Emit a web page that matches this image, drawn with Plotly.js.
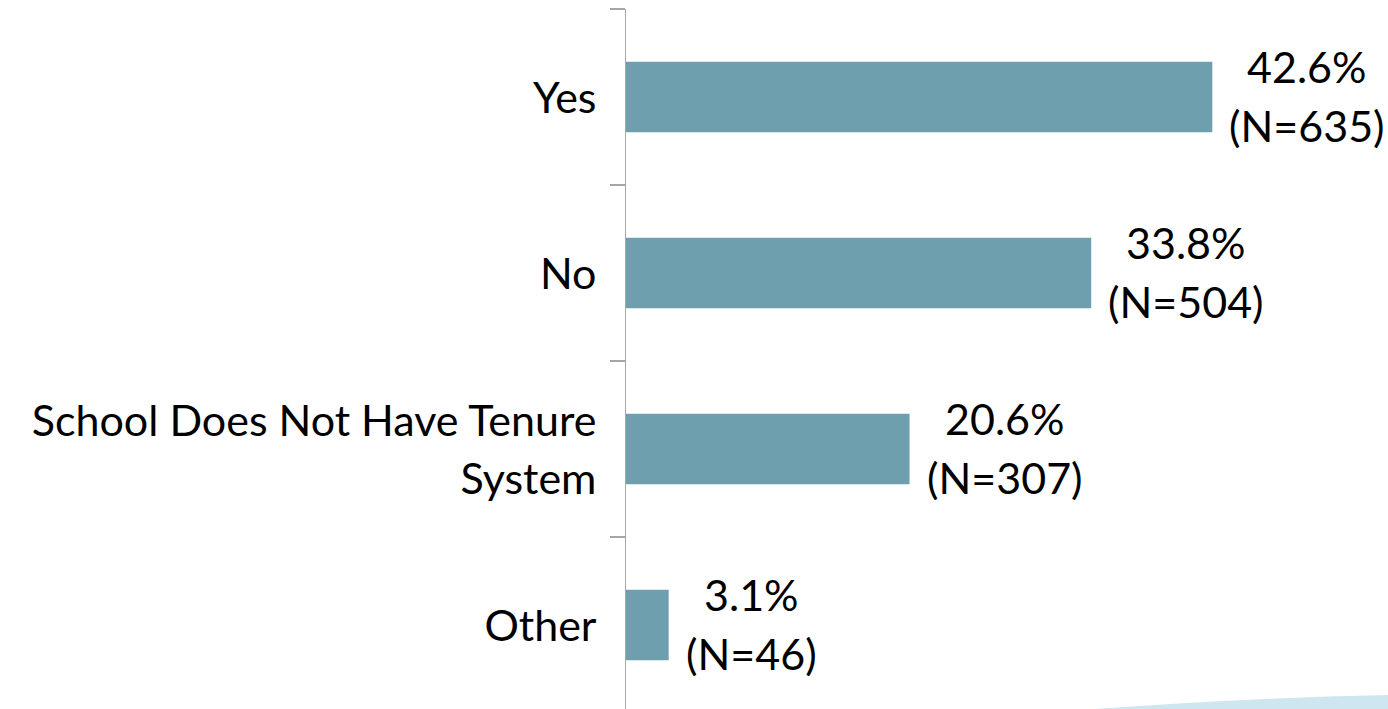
<!DOCTYPE html>
<html>
<head>
<meta charset="utf-8">
<script src="https://cdn.plot.ly/plotly-3.0.1.min.js"></script>
<style>html,body{margin:0;padding:0;background:#fff;}#chart{width:1388px;height:709px;}</style>
</head>
<body>
<div id="chart"></div>
<script>
const categories = ["Yes", "No", "School Does Not Have Tenure System", "Other"];
const tickLines = [["Yes"], ["No"], ["School Does Not Have Tenure", "System"], ["Other"]];
const percents = [42.6, 33.8, 20.6, 3.1];
const counts = [635, 504, 307, 46];

const BAR = "#6d9fae";
const AXIS = "#a6a6a6";
const FONT = "Lato, 'Open Sans', sans-serif";
const sz = 43;

const span = s => '<span style="font-size:' + sz + 'px">' + s + '</span>';

const trace = {
  type: "bar",
  orientation: "h",
  x: percents,
  y: categories,
  marker: {color: BAR},
  width: 0.4,
  hoverinfo: "x+y"
};

const annotations = categories.map((c, i) => ({
  x: percents[i], y: c, xref: "x", yref: "y",
  xanchor: "left", yanchor: "middle", align: "center",
  xshift: 15, yshift: 1,
  showarrow: false,
  text: span(percents[i].toFixed(1) + "%") + "<br>" + span("(N=" + counts[i] + ")"),
  font: {family: FONT, size: 45, color: "#000"}
}));

const layout = {
  width: 1388, height: 709,
  margin: {l: 626, r: 5, t: 9, b: 0},
  paper_bgcolor: "#fff", plot_bgcolor: "#fff",
  showlegend: false,
  font: {family: FONT, color: "#000"},
  xaxis: {
    range: [0, 55], visible: false, fixedrange: true
  },
  yaxis: {
    type: "category",
    range: [3.477, -0.5],
    tickmode: "array",
    tickvals: categories,
    ticktext: tickLines.map(ls => ls.map(span).join("<br>")),
    tickson: "boundaries",
    ticks: "outside", ticklen: 15, tickwidth: 1.5, tickcolor: AXIS,
    showline: true, linecolor: AXIS, linewidth: 1.5,
    showgrid: false, zeroline: false,
    tickfont: {family: FONT, size: 45, color: "#000"},
    ticklabelstandoff: 19,
    fixedrange: true
  },
  annotations: annotations,
  shapes: [{
    type: "path", xref: "paper", yref: "paper", layer: "below",
    path: "M 0.62,0 Q 0.82,0.016 1.01,0.02 L 1.01,0 Z",
    fillcolor: "rgba(190,222,235,0.75)", line: {width: 0}
  }]
};

Plotly.newPlot("chart", [trace], layout, {displayModeBar: false, staticPlot: true});
</script>
</body>
</html>
